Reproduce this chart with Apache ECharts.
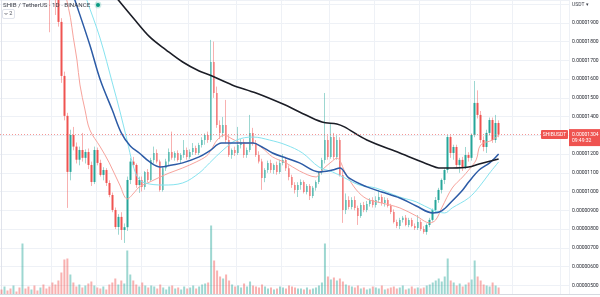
<!DOCTYPE html>
<html>
<head>
	<title>SHIB / TetherUS 1D</title>
	<meta http-equiv="Content-Type" content="text/html; charset=utf-8">
	<script src="https://cdn.jsdelivr.net/npm/echarts@6/dist/echarts.min.js"></script>
	<style>
		* {
			margin: 0;
			padding: 0;
			box-sizing: border-box;
		}
		body {
			background: #ffffff;
			overflow: hidden;
		}
		#chart {
			width: 600px;
			height: 297px;
		}
	</style>
</head>
<body>
<div id="chart"></div>
<script>
	// prices are in units of 0.00000001 USDT (1e-8)
	var open = [2600,2560,2590,2540,2500,2530,2480,2460,2560,2520,2480,2500,2440,2380,2400,2300,
		2200,2150,2110,2040,1905,1617,1404,1105,1302,1240,
		1170,1222,1180,1211,1142,1051,1222,1153,1089,1115,
		1046,982,902,811,865,795,810,1062,1160,1142,
		1035,1062,1025,1105,1062,1169,1206,1160,1009,1125,
		1160,1211,1180,1206,1169,1195,1222,1185,1211,1233,
		1206,1249,1275,1302,1275,1691,1526,1355,1313,1355,
		1275,1195,1222,1206,1249,1265,1195,1222,1313,1259,
		1195,1160,1073,1115,1153,1115,1142,1105,1153,1169,
		1125,1078,1035,1009,1035,1051,998,1030,977,1020,
		1051,1105,1169,1275,1185,1291,1185,1275,1089,902,
		955,918,955,913,870,929,902,934,955,929,
		955,971,939,955,923,891,838,817,849,860,
		822,849,817,806,838,800,785,822,849,902,
		955,1009,1062,1115,1291,1206,1238,1142,1169,1131,
		1195,1180,1302,1473,1409,1275,1238,1313,1382,1275,
		1366];
	var close = [2560,2590,2540,2500,2530,2480,2460,2560,2520,2480,2500,2440,2380,2400,2300,2200,
		2150,2110,2040,1905,1617,1404,1105,1302,1240,1170,
		1222,1180,1211,1142,1051,1222,1153,1089,1115,1046,
		982,902,811,865,795,810,1062,1160,1142,1035,
		1062,1025,1105,1062,1169,1206,1160,1009,1125,1160,
		1211,1180,1206,1169,1195,1222,1185,1211,1233,1206,
		1249,1275,1302,1275,1691,1526,1355,1313,1355,1275,
		1195,1222,1206,1249,1265,1195,1222,1313,1259,1195,
		1160,1073,1115,1153,1115,1142,1105,1153,1169,1125,
		1078,1035,1009,1035,1051,998,1030,977,1020,1051,
		1105,1169,1275,1185,1291,1185,1275,1089,902,955,
		918,955,913,870,929,902,934,955,929,955,
		971,939,955,923,891,838,817,849,860,822,
		849,817,806,838,800,785,822,849,902,955,
		1009,1062,1115,1291,1206,1238,1142,1169,1131,1195,
		1180,1302,1473,1409,1275,1238,1313,1382,1275,1366,
		1304];
	var low = [2520,2540,2520,2470,2480,2450,2430,2440,2490,2450,2460,2420,2350,2350,2270,2160,
		1850,2060,1942,1880,1580,1380,913,1060,1220,1150,
		1140,1160,1150,1120,1030,1040,1140,1080,1060,1030,
		970,890,800,770,742,726,790,1040,1130,1020,
		993,1000,1010,1050,1055,1150,1150,1000,1000,1110,
		1140,1170,1165,1160,1150,1180,1170,1175,1195,1195,
		1195,1235,1250,1260,1265,1500,1340,1280,1290,1260,
		1185,1175,1190,1195,1230,1180,1180,1210,1245,1185,
		1150,1009,1050,1100,1100,1095,1090,1095,1140,1110,
		1060,1020,990,971,1010,990,985,955,965,1005,
		1040,1090,1150,1170,1175,1170,1170,1080,833,880,
		905,905,900,822,860,890,890,920,915,915,
		940,925,920,915,880,830,805,800,835,815,
		810,810,795,795,790,775,770,810,840,890,
		940,990,1040,1100,1180,1170,1130,1100,1110,1120,
		1160,1165,1290,1390,1260,1215,1206,1300,1260,1260,
		1290];
	var high = [2650,2620,2610,2560,2560,2550,2500,2600,2580,2540,2530,2510,2460,2430,2420,2320,
		2230,2170,2130,2060,1925,1640,1420,1330,1345,1262,
		1240,1313,1225,1230,1160,1240,1235,1170,1130,1125,
		1060,995,915,880,890,830,1080,1180,1185,1150,
		1080,1080,1110,1120,1180,1240,1225,1170,1135,1175,
		1230,1320,1215,1220,1205,1275,1235,1225,1259,1245,
		1260,1290,1310,1320,1809,1800,1560,1380,1398,1489,
		1300,1230,1240,1345,1280,1280,1235,1409,1340,1275,
		1215,1175,1125,1165,1170,1150,1160,1170,1200,1185,
		1140,1090,1050,1050,1065,1060,1040,1040,1030,1060,
		1110,1180,1526,1300,1366,1313,1300,1290,1110,990,
		975,970,975,925,940,945,950,965,970,975,
		1009,985,970,965,935,905,850,860,870,875,
		860,860,830,875,850,815,830,860,910,971,
		1020,1070,1125,1302,1300,1250,1250,1180,1185,1238,
		1210,1310,1590,1540,1430,1295,1330,1395,1395,1409,
		1380];
	// relative volume
	var volume = [5,8,4,6,9,3,7,51,6,8,5,9,4,7,10,6,
		8,12,10,14,22,35,36,20,12,8,10,7,9,11,13,
		9,7,6,8,5,10,12,16,10,14,11,44,20,14,10,8,12,9,7,
		9,8,6,10,7,5,8,9,6,7,5,8,6,7,9,6,8,10,11,12,69,34,
		24,18,16,20,14,10,8,9,7,11,8,13,9,8,7,
		10,8,6,7,5,6,8,7,6,9,8,7,6,
		6,5,7,5,6,7,9,12,51,18,15,17,14,16,13,10,9,
		8,7,9,6,7,5,6,8,7,6,9,5,6,7,
		8,6,7,9,5,6,8,6,7,6,
		7,9,10,12,14,16,13,18,36,14,12,9,11,8,10,12,15,34,
		18,14,10,9,8,12,9,7];

	// moving averages: [bar index, price]
	var maFast = [[20.5,2150],[21.8,2022],[23,1930],[24,1820],[25.2,1702],[26.2,1569],[27.9,1435],[29.5,1329],
		[33,1238],[36,1153],[39.5,1035],[42,961],[44.5,998],[46,1025],[49.5,1051],[53,1078],[56,1099],
		[60.5,1126],[65,1158],[68.5,1190],[70,1222],[72,1275],[74.5,1302],[77,1281],[80.5,1259],[84,1259],
		[87,1233],[90.5,1185],[95,1153],[99.5,1110],[105,1078],[107,1115],[110.5,1163],[112,1179],[115,1094],
		[118.5,1009],[122,961],[127,939],[133,913],[138.5,870],[143,833],[145,849],[147,913],[150.5,1019],
		[154,1078],[156,1115],[158.5,1169],[160,1249],[164,1275],[166,1302]];
	var maMid = [[22.8,2102],[24.5,2022],[29.5,1782],[33,1595],[37,1435],[40,1313],[43,1243],[46,1206],
		[49.5,1158],[53,1131],[57,1142],[60.5,1153],[66,1185],[69.5,1217],[73.5,1259],[78.5,1259],[84,1259],
		[87,1238],[90.5,1206],[95,1179],[99.5,1153],[106,1105],[110.5,1115],[113,1126],[116,1073],[122,1025],
		[127,998],[133,966],[138.5,923],[144,886],[147,897],[150.5,950],[154,1009],[156,1051],[159.5,1115],
		[163,1153],[166,1201]];
	var maSlow = [[27,2100],[28.5,2022],[32.9,1819],[37.2,1569],[39.6,1425],[41.9,1275],[43.9,1142],[45.6,1073],
		[47.9,1046],[54,1035],[60.5,1046],[66,1099],[69.5,1153],[74,1222],[78.5,1275],[84,1291],[89.5,1275],
		[95,1249],[100.5,1206],[106,1131],[110.5,1105],[114,1078],[119.5,1035],[125,1019],[133,971],
		[138.5,945],[144,902],[148,886],[150.5,913],[156,966],[159.5,1025],[163,1099],[166,1158]];
	var ma200 = [[33,2139],[39,2022],[44,1926],[49.5,1825],[55,1755],[60.5,1691],[66,1643],[69.5,1622],
		[77,1569],[85,1526],[94,1467],[99.5,1425],[107,1371],[112,1361],[114.5,1345],[122,1275],[133,1206],
		[143,1142],[146,1126],[150.5,1126],[156,1131],[159.5,1147],[166,1174]];

	// bar indexes where the date grid lines fall
	var dateLines = [17, 32, 47, 63, 79, 94, 110, 125, 140, 157, 171, 187];
	var N = 190;
	// visible price range of the pane
	var priceMin = 451;
	var priceMax = 2022;
	var countdown = '09:49:32';

	var upColor = '#26a69a';
	var downColor = '#ef5350';
	var upPale = 'rgba(38,166,154,0.45)';
	var downPale = 'rgba(239,83,80,0.45)';
	var fontFam = 'Roboto, "Noto Sans", sans-serif';

	var cats = [];
	for (var i = 0; i < N; i++) {
		cats.push(String(i));
	}

	var wicks = [];
	var bodies = [];
	var vols = [];
	for (var i = 0; i < open.length; i++) {
		wicks.push([open[i], close[i], low[i], high[i]]);
		bodies.push([open[i], close[i], Math.min(open[i], close[i]), Math.max(open[i], close[i])]);
		vols.push({
			value: volume[i],
			itemStyle: { color: close[i] >= open[i] ? upPale : downPale }
		});
	}
	var lastClose = close[close.length - 1];

	function formatPrice(v) {
		return (v / 1e8).toFixed(8);
	}

	function tickLabel(v) {
		if (v < 500 || v > 1900 || v % 100 !== 0) return '';
		return formatPrice(v);
	}

	function maLine(data, color, width) {
		return {
			type: 'line',
			xAxisIndex: 1,
			yAxisIndex: 0,
			data: data,
			showSymbol: false,
			smooth: 0.35,
			clip: true,
			silent: true,
			z: 4,
			lineStyle: { color: color, width: width }
		};
	}

	var chart = echarts.init(document.getElementById('chart'));
	chart.setOption({
		animation: false,
		backgroundColor: '#ffffff',
		grid: [
			{ left: 0, right: 31, top: 0, height: 294.5, outerBoundsMode: 'none' },
			{ left: 0, right: 31, top: 194.5, height: 100, outerBoundsMode: 'none' }
		],
		xAxis: [
			{
				type: 'category', gridIndex: 0, data: cats, boundaryGap: true,
				axisLine: { show: false }, axisTick: { show: false }, axisLabel: { show: false },
				splitLine: {
					show: true,
					interval: function (idx) { return dateLines.indexOf(idx) >= 0; },
					lineStyle: { color: '#eef1f6', width: 1 }
				}
			},
			{ type: 'value', gridIndex: 0, min: -0.5, max: N - 0.5, show: false },
			{ type: 'category', gridIndex: 1, data: cats, show: false }
		],
		yAxis: [
			{
				type: 'value', gridIndex: 0, position: 'right', min: priceMin, max: priceMax, splitNumber: 16,
				axisLine: { show: true, lineStyle: { color: '#e0e3eb' } },
				axisTick: { show: false },
				axisLabel: { margin: 3, fontSize: 5, color: '#1f222b', fontFamily: fontFam, formatter: tickLabel,
					showMinLabel: false, showMaxLabel: false },
				splitLine: { show: true, lineStyle: { color: '#eef1f6', width: 1 } }
			},
			{ type: 'value', gridIndex: 1, min: 0, max: 100, show: false }
		],
		series: [
			{
				type: 'bar', xAxisIndex: 2, yAxisIndex: 1, data: vols,
				barWidth: 2, silent: true, z: 1
			},
			{
				type: 'candlestick', xAxisIndex: 0, yAxisIndex: 0, data: wicks,
				barWidth: 1, silent: true, z: 2, clip: true,
				itemStyle: { color: upPale, color0: downPale, borderColor: upPale, borderColor0: downPale, borderWidth: 1 }
			},
			{
				type: 'candlestick', xAxisIndex: 0, yAxisIndex: 0, data: bodies,
				barWidth: 2, silent: true, z: 3, clip: true,
				itemStyle: { color: upColor, color0: downColor, borderColor: upColor, borderColor0: downColor, borderWidth: 0 },
				markLine: {
					silent: true,
					symbol: ['none', 'none'],
					label: { show: false },
					lineStyle: { color: downColor, type: [1, 2], width: 1, opacity: 0.6 },
					data: [{ yAxis: lastClose }]
				}
			},
			maLine(maFast, '#f7a39c', 1),
			maLine(maSlow, '#86e3ef', 1),
			maLine(maMid, '#2c5ba6', 1.5),
			maLine(ma200, '#1b1d26', 1.6)
		]
	});

	// overlay texts and tags, placed from the price scale
	var py = chart.convertToPixel({ yAxisIndex: 0 }, lastClose);
	chart.setOption({
		graphic: [
			{ type: 'rect', z: 50, shape: { x: 0, y: 294.5, width: 600, height: 3 }, style: { fill: '#ffffff' } },
			{ type: 'line', z: 51, shape: { x1: 0, y1: 294.5, x2: 600, y2: 294.5 }, style: { stroke: '#d6d9e0', lineWidth: 1 } },
			{ type: 'text', z: 60, x: 3, y: 5, style: { text: 'SHIB / TetherUS · 1D · BINANCE', fontSize: 6.2, fontFamily: fontFam, fill: '#3a3d47', verticalAlign: 'middle' } },
			{ type: 'circle', z: 60, shape: { cx: 98, cy: 5, r: 3.4 }, style: { fill: 'rgba(8,153,129,0.2)' } },
			{ type: 'circle', z: 61, shape: { cx: 98, cy: 5, r: 2 }, style: { fill: '#089981' } },
			{ type: 'rect', z: 60, shape: { x: 2.5, y: 9.5, width: 12, height: 9, r: 1.5 }, style: { fill: '#ffffff', stroke: '#e0e3eb', lineWidth: 1 } },
			{ type: 'polyline', z: 61, shape: { points: [[4.5, 13], [6, 14.5], [7.5, 13]] }, style: { stroke: '#50535e', lineWidth: 0.8, fill: null } },
			{ type: 'text', z: 61, x: 9.3, y: 14, style: { text: '2', fontSize: 5.5, fontFamily: fontFam, fill: '#50535e', verticalAlign: 'middle' } },
			{ type: 'text', z: 60, x: 572, y: 4.5, style: { text: 'USDT ▾', fontSize: 5, fontFamily: fontFam, fill: '#3a3d47', verticalAlign: 'middle' } },
			{ type: 'rect', z: 60, shape: { x: 541, y: py - 4.5, width: 27, height: 9, r: 1 }, style: { fill: downColor } },
			{ type: 'text', z: 61, x: 554.5, y: py, style: { text: 'SHIBUSDT', fontSize: 5, fontFamily: fontFam, fill: '#ffffff', align: 'center', verticalAlign: 'middle' } },
			{ type: 'rect', z: 60, shape: { x: 569, y: py - 5.5, width: 31, height: 17 }, style: { fill: downColor } },
			{ type: 'text', z: 61, x: 572, y: py, style: { text: formatPrice(lastClose), fontSize: 5, fontFamily: fontFam, fill: '#ffffff', verticalAlign: 'middle' } },
			{ type: 'text', z: 61, x: 572, y: py + 6.5, style: { text: countdown, fontSize: 5, fontFamily: fontFam, fill: '#ffffff', verticalAlign: 'middle' } }
		]
	});
</script>
</body>
</html>
